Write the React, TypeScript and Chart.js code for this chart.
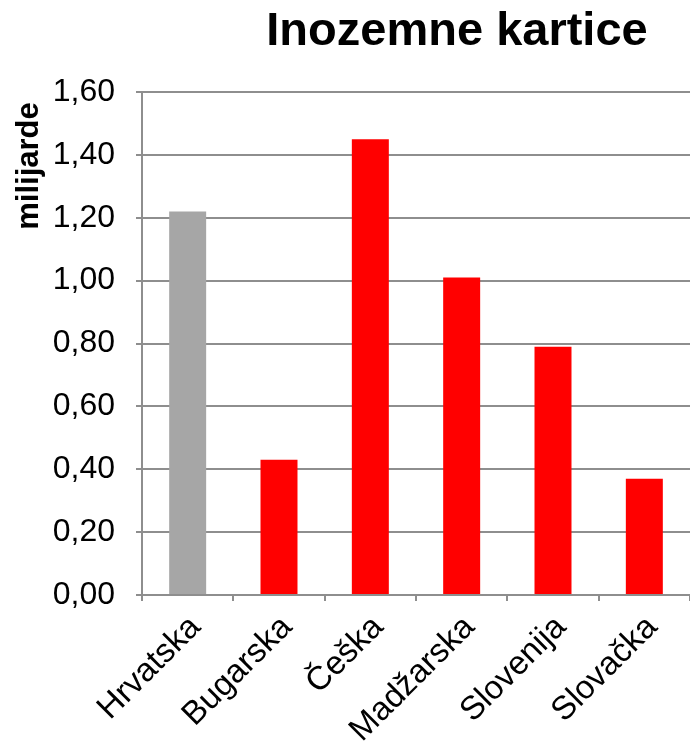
import React, { useEffect, useRef } from "react";
import { Chart, registerables } from "chart.js";

Chart.register(...registerables);

const categories = ["Hrvatska", "Bugarska", "Češka", "Madžarska", "Slovenija", "Slovačka"];
const values = [1.22, 0.43, 1.45, 1.01, 0.79, 0.37];
const barColors = ["#a6a6a6", "#ff0000", "#ff0000", "#ff0000", "#ff0000", "#ff0000"];
const chartTitle = "Inozemne kartice";
const yAxisTitle = "milijarde";
const yMin = 0;
const yMax = 1.6;
const yStep = 0.2;

const FONT = "'Liberation Sans', Arial, sans-serif";

const customText = {
  id: "customText",
  afterDraw(chart: any) {
    const ctx = chart.ctx;
    ctx.save();
    ctx.fillStyle = "#000";
    ctx.font = `bold 47px ${FONT}`;
    ctx.textAlign = "center";
    ctx.textBaseline = "alphabetic";
    ctx.fillText(chartTitle, 457, 45);
    ctx.translate(29, 166);
    ctx.rotate(-Math.PI / 2);
    ctx.font = `bold 31px ${FONT}`;
    ctx.textBaseline = "middle";
    ctx.fillText(yAxisTitle, 0, 0);
    ctx.restore();
  },
};

export default function App() {
  const ref = useRef<HTMLCanvasElement | null>(null);
  useEffect(() => {
    if (!ref.current) return;
    const chart = new Chart(ref.current, {
      type: "bar",
      data: {
        labels: categories,
        datasets: [
          {
            data: values,
            backgroundColor: barColors,
            borderWidth: 0,
            barPercentage: 0.405,
            categoryPercentage: 1,
          },
        ],
      },
      options: {
        animation: false,
        responsive: false,
        maintainAspectRatio: false,
        layout: { padding: { top: 92, left: 0, right: 0, bottom: 0 } },
        plugins: { legend: { display: false }, title: { display: false }, tooltip: { enabled: false } },
        scales: {
          x: {
            grid: {
              display: true,
              drawOnChartArea: false,
              drawTicks: true,
              tickLength: 6,
              color: "#8e8e8e",
              lineWidth: 2,
              offset: true,
            },
            border: { color: "#8e8e8e", width: 2 },
            ticks: {
              color: "#000",
              font: { family: FONT, size: 33 },
              minRotation: 45,
              maxRotation: 45,
              padding: 7,
              labelOffset: 8,
              autoSkip: false,
            },
            afterFit(scale: any) {
              scale.height = 150;
            },
          },
          y: {
            min: yMin,
            max: yMax,
            grid: { color: "#8e8e8e", lineWidth: 2, tickLength: 6, drawTicks: true },
            border: { color: "#8e8e8e", width: 2 },
            ticks: {
              stepSize: yStep,
              color: "#000",
              padding: 21,
              font: { family: FONT, size: 32 },
              callback: (v: any) => Number(v).toFixed(2).replace(".", ","),
            },
            afterFit(scale: any) {
              scale.width = 142;
            },
          },
        },
      },
      plugins: [customText],
    });
    return () => chart.destroy();
  }, []);
  return (
    <div style={{ position: "absolute", left: 0, top: 0, width: 690, height: 745, background: "#fff" }}>
      <canvas ref={ref} width={690} height={745} style={{ display: "block" }} />
    </div>
  );
}
